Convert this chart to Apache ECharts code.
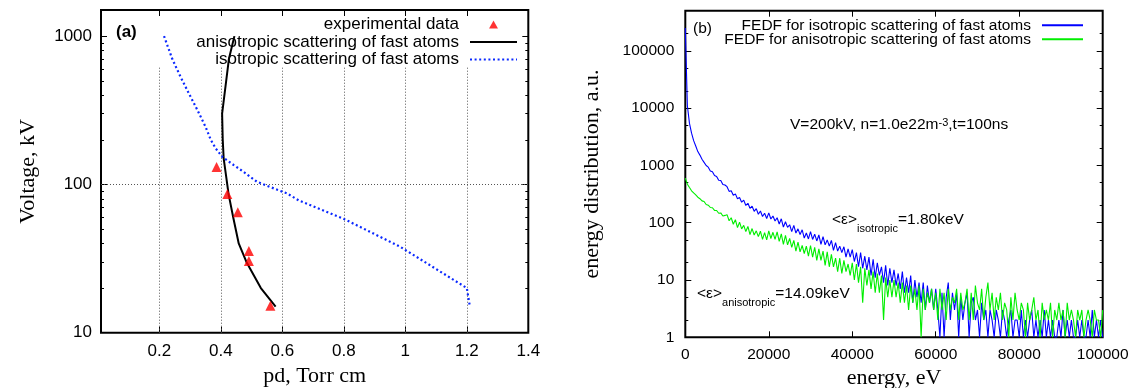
<!DOCTYPE html>
<html>
<head>
<meta charset="utf-8">
<title>Breakdown voltage and fast atom energy distribution</title>
<script src="https://cdn.jsdelivr.net/npm/echarts@6/dist/echarts.min.js"></script>
<style>
  html, body { margin: 0; padding: 0; background: #fff; }
  #chart { width: 1135px; height: 388px; }
</style>
</head>
<body>
<div id="chart"></div>
<script>
// ---- (a) breakdown curve, pd [Torr cm] vs voltage [kV] ----
const expPd = [0.386, 0.421, 0.455, 0.491, 0.491, 0.561];
const expV = [131, 86, 65, 35.5, 30.5, 15.2];

const anisoPd = [0.444, 0.426, 0.404, 0.406, 0.409, 0.418, 0.425, 0.44, 0.458, 0.483, 0.53, 0.578];
const anisoV = [1000, 700, 300, 200, 150, 110, 86, 60, 40, 30, 20, 15];

const isoPd = [0.215, 0.242, 0.269, 0.296, 0.324, 0.35, 0.367, 0.383, 0.405, 0.442, 0.475, 0.518, 0.572, 0.615, 0.653, 0.804, 0.983, 1.2, 1.21];
const isoV = [1000, 700, 530, 410, 316, 245, 200, 175, 153, 135, 121, 104, 94, 87, 78, 58, 38, 20, 15];

const pdTicks = [0.2, 0.4, 0.6, 0.8, 1, 1.2, 1.4];
const pdGrid = [0.2, 0.4, 0.6, 0.8, 1, 1.2];
const voltTicks = [10, 100, 1000];
const voltMinor = [20, 30, 40, 50, 60, 70, 80, 90, 200, 300, 400, 500, 600, 700, 800, 900];
const keyBottomV = 620; // grid lines stop under the key

// ---- (b) FEDF, counts per 500 eV bin from 0 to 100000 eV ----
const binWidth = 500;
const isoCounts = [
  250000, 11000, 5400, 3650, 2700, 2180, 1740, 1510, 1280, 1130, 995, 930, 800, 775, 665, 640, 550, 545, 465, 455,
  425, 352, 360, 300, 318, 262, 276, 228, 248, 200, 218, 178, 194, 158, 176, 140, 160, 128, 146, 118,
  148, 116, 131, 107, 122, 95, 117, 84, 104, 83, 92, 70, 90, 66, 78, 62, 75, 54, 66, 52,
  70, 51, 63, 48, 61, 42, 57, 41, 50, 39, 49, 33, 45, 32, 39, 30, 38, 25, 35, 25,
  34, 21, 30, 17, 30, 16, 26, 15, 25, 12, 23, 11, 20, 12, 17, 9, 18, 8, 16, 9,
  15, 8, 13, 7, 14, 6, 11, 6, 12, 4, 10, 5, 9, 4, 9, 3, 8, 4, 7, 3,
  7, 3, 1, 6, 1, 5, 9, 2, 6, 3, 6, 1, 5, 2, 4, 6, 1, 4, 5, 2,
  3, 1, 4, 2, 3, 1, 3, 2, 1, 3, 2, 1, 3, 2, 1, 2, 3, 1, 2, 2,
  1, 3, 1, 2, 1, 2, 3, 1, 2, 1, 2, 1, 3, 1, 2, 1, 2, 1, 1, 2,
  1, 3, 1, 2, 1, 2, 1, 1, 2, 1, 2, 1, 1, 2, 1, 3, 1, 2, 1, 2,
  1
];
const anisoCounts = [
  600, 470, 410, 360, 330, 305, 278, 262, 240, 234, 208, 202, 184, 182, 164, 163, 146, 148, 131, 134,
  138, 108, 122, 94, 113, 82, 102, 78, 90, 70, 86, 62, 79, 61, 72, 57, 71, 51, 67, 50,
  72, 53, 68, 51, 69, 47, 64, 42, 60, 41, 53, 37, 49, 32, 46, 31, 40, 29, 39, 26,
  40, 25, 37, 22, 35, 22, 32, 18, 31, 17, 28, 17, 24, 14, 24, 13, 22, 14, 19, 12,
  20, 10, 19, 9, 17, 4, 16, 8, 15, 7, 14, 6, 13, 6, 12, 2, 11, 5, 10, 5,
  10, 5, 9, 4, 9, 4, 8, 3, 8, 4, 7, 3, 8, 1, 7, 3, 6, 4, 7, 3,
  6, 2, 7, 3, 6, 2, 7, 3, 5, 4, 7, 2, 6, 3, 4, 7, 2, 6, 2, 8,
  4, 3, 7, 2, 5, 9, 3, 6, 2, 5, 3, 6, 2, 4, 3, 1, 5, 2, 6, 3,
  2, 4, 3, 1, 4, 2, 3, 5, 2, 3, 1, 4, 2, 3, 2, 4, 1, 3, 2, 4,
  2, 3, 1, 4, 2, 3, 2, 1, 3, 2, 3, 1, 2, 3, 2, 1, 3, 2, 2, 1,
  3
];
const energyTicks = [0, 20000, 40000, 60000, 80000, 100000];
const fedfTicks = [1, 10, 100, 1000, 10000, 100000];
const fedfMinor = [2, 5, 20, 50, 200, 500, 2000, 5000, 20000, 50000, 200000];

const SANS = '"Liberation Sans", Arial, sans-serif';
const SERIF = '"Liberation Serif", "Times New Roman", serif';
const tickLine = { color: '#000', width: 1 };
const triangleIcon = 'path://M5,0 L10,9 L0,9 Z';
const noSymbol = { opacity: 0 }; // hide the dot echarts puts on line legend icons

// bare axis that only draws inward ticks (mirror / minor ticks)
function tickOnly(gridIndex, position, type, min, max, values, len) {
  return {
    gridIndex: gridIndex, position: position, type: type, min: min, max: max,
    axisLine: { show: false }, splitLine: { show: false }, axisLabel: { show: false },
    axisTick: { show: true, inside: true, length: len, customValues: values, lineStyle: tickLine }
  };
}

const pairs = (xs, ys) => xs.map((x, i) => [x, ys[i]]);
const binned = counts => counts.map((c, i) => [i * binWidth, c]);

const gridLines = pdGrid.map(x => [{ coord: [x, 10] }, { coord: [x, keyBottomV] }]);
gridLines.push({ yAxis: 100 });

const chart = echarts.init(document.getElementById('chart'), null, { renderer: 'canvas' });
chart.setOption({
  animation: false,
  backgroundColor: '#fff',
  grid: [
    { left: 101, top: 10, width: 427.3, height: 322.7, show: true, borderColor: '#000', borderWidth: 2,
      backgroundColor: 'transparent', containLabel: false, outerBoundsMode: 'none' },
    { left: 685.3, top: 10.7, width: 417.4, height: 326.6, show: true, borderColor: '#000', borderWidth: 2,
      backgroundColor: 'transparent', containLabel: false, outerBoundsMode: 'none' }
  ],
  legend: [
    {
      orient: 'vertical', align: 'right', right: 612, top: 11,
      itemWidth: 47, itemHeight: 8, itemGap: 0.5, selectedMode: false, symbolKeepAspect: true,
      textStyle: { fontFamily: SANS, fontSize: 17, color: '#000', padding: [0, 6, 0, 0] },
      data: [
        { name: 'experimental data', icon: triangleIcon },
        { name: 'anisotropic scattering of fast atoms', itemStyle: noSymbol },
        { name: 'isotropic scattering of fast atoms', itemStyle: noSymbol }
      ]
    },
    {
      orient: 'vertical', align: 'right', right: 46, top: 12.3,
      itemWidth: 41, itemHeight: 8, itemGap: -2, selectedMode: false,
      textStyle: { fontFamily: SANS, fontSize: 15.5, color: '#000', padding: [0, 6, 0, 0] },
      data: [
        { name: 'FEDF for isotropic scattering of fast atoms', itemStyle: noSymbol },
        { name: 'FEDF for anisotropic scattering of fast atoms', itemStyle: noSymbol }
      ]
    }
  ],
  xAxis: [
    {
      gridIndex: 0, type: 'value', position: 'bottom', min: 0.01, max: 1.4,
      axisLine: { show: false }, splitLine: { show: false },
      axisTick: { inside: true, length: 6, customValues: pdTicks, lineStyle: tickLine },
      axisLabel: { customValues: pdTicks, formatter: v => String(v), color: '#000',
        fontFamily: SANS, fontSize: 17, margin: 10 },
      name: 'pd, Torr cm', nameLocation: 'middle', nameGap: 33,
      nameTextStyle: { fontFamily: SERIF, fontSize: 22, color: '#000' }
    },
    tickOnly(0, 'top', 'value', 0.01, 1.4, pdTicks, 6),
    {
      gridIndex: 1, type: 'value', position: 'bottom', min: 0, max: 100000,
      axisLine: { show: false }, splitLine: { show: false },
      axisTick: { inside: true, length: 6, customValues: energyTicks, lineStyle: tickLine },
      axisLabel: { customValues: energyTicks, formatter: v => String(v), color: '#000',
        fontFamily: SANS, fontSize: 15.5, margin: 9, showMinLabel: true, showMaxLabel: true },
      name: 'energy, eV', nameLocation: 'middle', nameGap: 30,
      nameTextStyle: { fontFamily: SERIF, fontSize: 22, color: '#000' }
    },
    tickOnly(1, 'top', 'value', 0, 100000, energyTicks, 6)
  ],
  yAxis: [
    {
      gridIndex: 0, type: 'log', position: 'left', min: 10, max: 1500,
      axisLine: { show: false }, splitLine: { show: false },
      axisTick: { inside: true, length: 6, customValues: voltTicks, lineStyle: tickLine },
      axisLabel: { customValues: voltTicks, formatter: v => String(v), color: '#000',
        fontFamily: SANS, fontSize: 17, margin: 9 },
      name: 'Voltage, kV', nameLocation: 'middle', nameGap: 62,
      nameTextStyle: { fontFamily: SERIF, fontSize: 22, color: '#000' }
    },
    tickOnly(0, 'left', 'log', 10, 1500, voltMinor, 3),
    tickOnly(0, 'right', 'log', 10, 1500, voltTicks, 6),
    tickOnly(0, 'right', 'log', 10, 1500, voltMinor, 3),
    {
      gridIndex: 1, type: 'log', position: 'left', min: 1, max: 500000,
      axisLine: { show: false }, splitLine: { show: false },
      axisTick: { inside: true, length: 6, customValues: fedfTicks, lineStyle: tickLine },
      axisLabel: { customValues: fedfTicks, formatter: v => String(v), color: '#000',
        fontFamily: SANS, fontSize: 15.5, margin: 11 },
      name: 'energy distribution, a.u.', nameLocation: 'middle', nameGap: 82,
      nameTextStyle: { fontFamily: SERIF, fontSize: 22, color: '#000' }
    },
    tickOnly(1, 'left', 'log', 1, 500000, fedfMinor, 3),
    tickOnly(1, 'right', 'log', 1, 500000, fedfTicks, 6),
    tickOnly(1, 'right', 'log', 1, 500000, fedfMinor, 3)
  ],
  graphic: [
    { type: 'text', x: 116, y: 32.5, z: 100,
      style: { text: '(a)', fontFamily: SANS, fontSize: 17, fontWeight: 'bold', fill: '#000', verticalAlign: 'middle' } },
    { type: 'text', x: 693, y: 28.5, z: 100,
      style: { text: '(b)', fontFamily: SANS, fontSize: 15.5, fill: '#000', verticalAlign: 'middle' } },
    { type: 'text', x: 790, y: 128, z: 100,
      style: {
        text: '{m|V=200kV, n=1.0e22m}{sup|-3}{m|,t=100ns}', verticalAlign: 'middle',
        rich: {
          m: { fontFamily: SANS, fontSize: 15.5, lineHeight: 22, verticalAlign: 'top', fill: '#000' },
          sup: { fontFamily: SANS, fontSize: 11, lineHeight: 11, verticalAlign: 'top', fill: '#000' }
        }
      } },
    { type: 'text', x: 832, y: 223, z: 100,
      style: {
        text: '{m|<ε>}{sub|isotropic}{m|=1.80keV}', verticalAlign: 'middle',
        rich: {
          m: { fontFamily: SANS, fontSize: 15.5, lineHeight: 22, verticalAlign: 'top', fill: '#000' },
          sub: { fontFamily: SANS, fontSize: 11, lineHeight: 11, verticalAlign: 'bottom', fill: '#000' }
        }
      } },
    { type: 'text', x: 697, y: 297, z: 100,
      style: {
        text: '{m|<ε>}{sub|anisotropic}{m|=14.09keV}', verticalAlign: 'middle',
        rich: {
          m: { fontFamily: SANS, fontSize: 15.5, lineHeight: 22, verticalAlign: 'top', fill: '#000' },
          sub: { fontFamily: SANS, fontSize: 11, lineHeight: 11, verticalAlign: 'bottom', fill: '#000' }
        }
      } }
  ],
  series: [
    {
      name: 'grid', type: 'line', xAxisIndex: 0, yAxisIndex: 0, data: [], symbol: 'none', silent: true,
      markLine: {
        silent: true, symbol: ['none', 'none'], z: 1, label: { show: false },
        lineStyle: { color: '#555', width: 1, type: [1, 2] },
        emphasis: { disabled: true },
        data: gridLines
      }
    },
    {
      name: 'anisotropic scattering of fast atoms', type: 'line', xAxisIndex: 0, yAxisIndex: 0,
      symbol: 'none', z: 3,
      lineStyle: { color: '#000', width: 2 }, itemStyle: { color: '#000' },
      data: pairs(anisoPd, anisoV)
    },
    {
      name: 'isotropic scattering of fast atoms', type: 'line', xAxisIndex: 0, yAxisIndex: 0,
      symbol: 'none', z: 3,
      lineStyle: { color: '#0a28ff', width: 2.2, type: [2, 2.6] }, itemStyle: { color: '#0a28ff' },
      data: pairs(isoPd, isoV)
    },
    {
      name: 'experimental data', type: 'scatter', xAxisIndex: 0, yAxisIndex: 0,
      symbol: 'triangle', symbolSize: 10, z: 4,
      itemStyle: { color: '#ff0000' },
      data: pairs(expPd, expV)
    },
    {
      name: 'FEDF for isotropic scattering of fast atoms', type: 'line', xAxisIndex: 2, yAxisIndex: 4,
      symbol: 'none', lineStyle: { color: '#0000ff', width: 1.1 }, itemStyle: { color: '#0000ff' },
      data: binned(isoCounts)
    },
    {
      name: 'FEDF for anisotropic scattering of fast atoms', type: 'line', xAxisIndex: 2, yAxisIndex: 4,
      symbol: 'none', lineStyle: { color: '#00ee00', width: 1.1 }, itemStyle: { color: '#00ee00' },
      data: binned(anisoCounts)
    }
  ]
});
</script>
</body>
</html>
